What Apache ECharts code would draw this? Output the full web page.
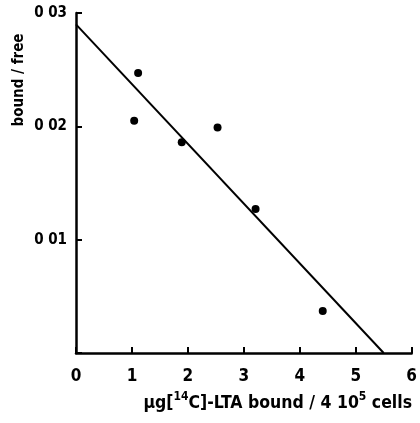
<!DOCTYPE html>
<html>
<head>
<meta charset="utf-8">
<script src="https://cdn.jsdelivr.net/npm/echarts@6/dist/echarts.min.js"></script>
<style>
  html, body { margin: 0; padding: 0; background: #fff; }
  #chart { width: 420px; height: 423px; }
</style>
</head>
<body>
<div id="chart"></div>
<script>
// Measured binding points (amount bound vs bound/free ratio)
const boundX = [1.11, 1.04, 1.89, 2.53, 3.21, 4.41];
const ratioY = [0.0247, 0.0205, 0.0186, 0.0199, 0.0127, 0.0037];

// Fitted straight line: intercepts on both axes
const fitX = [0, 5.5];
const fitY = [0.029, 0];

// Tick labels
const xTickLabels = ['0', '1', '2', '3', '4', '5', '6'];
const yTickLabels = ['', '0 01', '0 02', '0 03'];

const FONT = 'DejaVu Sans Condensed';
const INK = '#000';

const chart = echarts.init(document.getElementById('chart'), null, { renderer: 'canvas' });

chart.setOption({
  backgroundColor: '#fff',
  animation: false,
  grid: { left: 76, right: 8, top: 13, bottom: 70, containLabel: false },
  xAxis: {
    type: 'value', min: 0, max: 6, interval: 1,
    axisLine: { show: true, lineStyle: { color: INK, width: 2.5 } },
    axisTick: { show: true, inside: true, length: 6, lineStyle: { color: INK, width: 2 } },
    splitLine: { show: false },
    axisLabel: {
      margin: 15, color: INK, fontFamily: FONT, fontWeight: 'bold', fontSize: 17,
      formatter: (v) => xTickLabels[Math.round(v)]
    }
  },
  yAxis: {
    type: 'value', min: 0, max: 0.03, interval: 0.01,
    axisLine: { show: true, lineStyle: { color: INK, width: 2.5 } },
    axisTick: { show: true, inside: true, length: 6, lineStyle: { color: INK, width: 2 } },
    splitLine: { show: false },
    axisLabel: {
      margin: 9, color: INK, fontFamily: FONT, fontWeight: 'bold', fontSize: 15,
      formatter: (v) => yTickLabels[Math.round(v * 100)]
    }
  },
  graphic: [
    {
      type: 'text',
      rotation: Math.PI / 2,
      x: 19, y: 80,
      style: {
        text: 'bound / free', fill: INK,
        font: 'bold 15px "DejaVu Sans Condensed"',
        align: 'center', verticalAlign: 'middle'
      }
    },
    {
      type: 'text', right: 8, top: 391,
      style: {
        text: '{t|µg[}{s|14}{t|C]-LTA bound / 4 10}{s|5}{t| cells}',
        rich: {
          t: { fill: INK, fontFamily: FONT, fontWeight: 'bold', fontSize: 17.5, verticalAlign: 'bottom' },
          s: { fill: INK, fontFamily: FONT, fontWeight: 'bold', fontSize: 12, verticalAlign: 'top', padding: [0, 0, 9, 0] }
        }
      }
    }
  ],
  series: [
    {
      type: 'line',
      data: fitX.map((x, i) => [x, fitY[i]]),
      symbol: 'none',
      lineStyle: { color: INK, width: 2 },
      silent: true
    },
    {
      type: 'scatter',
      data: boundX.map((x, i) => [x, ratioY[i]]),
      symbol: 'circle', symbolSize: 8,
      itemStyle: { color: INK, opacity: 1 }
    }
  ]
});
</script>
</body>
</html>
